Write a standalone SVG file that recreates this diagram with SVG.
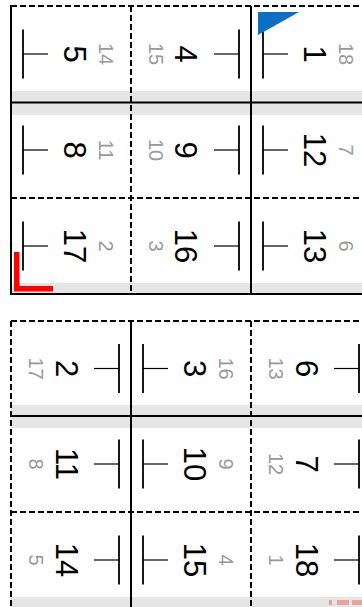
<svg xmlns="http://www.w3.org/2000/svg" width="362" height="607" viewBox="0 0 362 607">
<style>
.band{fill:#e5e5e5}
.sol{stroke:#000;stroke-width:2;fill:none}
.dsh{stroke:#000;stroke-width:2;stroke-dasharray:6 3;fill:none}
.mv{stroke:#000;stroke-width:1.8}
.mh{stroke:#000;stroke-width:1.2}
.big{font-family:"Liberation Sans",Arial,sans-serif;font-size:31px;fill:#000;text-anchor:middle}
.sm{font-family:"Liberation Sans",Arial,sans-serif;font-size:20px;fill:#999;text-anchor:middle}
</style>
<rect width="362" height="607" fill="#fff"/>
<!-- gray bands -->
<rect class="band" x="11" y="91" width="360" height="24"/>
<rect class="band" x="11" y="283" width="360" height="11"/>
<rect class="band" x="11" y="405" width="360" height="23"/>
<rect class="band" x="11" y="597" width="360" height="11"/>
<g id="connectors">
<!-- top sheet -->
<line class="dsh" x1="11" y1="6" x2="371" y2="6"/>
<line class="sol" x1="11" y1="5" x2="11" y2="295"/>
<line class="sol" x1="10" y1="294" x2="371" y2="294"/>
<line class="dsh" x1="131" y1="6" x2="131" y2="294"/>
<line class="sol" x1="251" y1="6" x2="251" y2="294"/>
<line class="sol" x1="11" y1="102.5" x2="371" y2="102.5"/>
<line class="dsh" x1="11" y1="198" x2="371" y2="198"/>
<!-- bottom sheet -->
<line class="dsh" x1="11" y1="321" x2="371" y2="321"/>
<line class="dsh" x1="11" y1="321" x2="11" y2="608"/>
<line class="sol" x1="131" y1="321" x2="131" y2="608"/>
<line class="dsh" x1="251" y1="321" x2="251" y2="608"/>
<line class="sol" x1="11" y1="416" x2="371" y2="416"/>
<line class="dsh" x1="11" y1="512" x2="371" y2="512"/>
</g>
<!-- top sheet pages -->
<g id="p5"><line class="mv" x1="23" y1="29.5" x2="23" y2="78.5"/><line class="mh" x1="23" y1="54" x2="48" y2="54"/><text class="big" transform="translate(75,54) rotate(90)" dy="0.36em">5</text><text class="sm" transform="translate(106,54) rotate(90)" dy="0.36em">14</text></g>
<g id="p4"><line class="mv" x1="239" y1="29.5" x2="239" y2="78.5"/><line class="mh" x1="214" y1="54" x2="239" y2="54"/><text class="big" transform="translate(186,54) rotate(90)" dy="0.36em">4</text><text class="sm" transform="translate(156,54) rotate(90)" dy="0.36em">15</text></g>
<g id="p1"><line class="mv" x1="263" y1="29.5" x2="263" y2="78.5"/><line class="mh" x1="263" y1="54" x2="288" y2="54"/><text class="big" transform="translate(315,54) rotate(90)" dy="0.36em">1</text><text class="sm" transform="translate(346,54) rotate(90)" dy="0.36em">18</text></g>
<g id="p8"><line class="mv" x1="23" y1="125.5" x2="23" y2="174.5"/><line class="mh" x1="23" y1="150" x2="48" y2="150"/><text class="big" transform="translate(75,150) rotate(90)" dy="0.36em">8</text><text class="sm" transform="translate(106,150) rotate(90)" dy="0.36em">11</text></g>
<g id="p9"><line class="mv" x1="239" y1="125.5" x2="239" y2="174.5"/><line class="mh" x1="214" y1="150" x2="239" y2="150"/><text class="big" transform="translate(186,150) rotate(90)" dy="0.36em">9</text><text class="sm" transform="translate(156,150) rotate(90)" dy="0.36em">10</text></g>
<g id="p12"><line class="mv" x1="263" y1="125.5" x2="263" y2="174.5"/><line class="mh" x1="263" y1="150" x2="288" y2="150"/><text class="big" transform="translate(315,150) rotate(90)" dy="0.36em">12</text><text class="sm" transform="translate(346,150) rotate(90)" dy="0.36em">7</text></g>
<g id="p17"><line class="mv" x1="23" y1="221.5" x2="23" y2="270.5"/><line class="mh" x1="23" y1="246" x2="48" y2="246"/><text class="big" transform="translate(75,246) rotate(90)" dy="0.36em">17</text><text class="sm" transform="translate(106,246) rotate(90)" dy="0.36em">2</text></g>
<g id="p16"><line class="mv" x1="239" y1="221.5" x2="239" y2="270.5"/><line class="mh" x1="214" y1="246" x2="239" y2="246"/><text class="big" transform="translate(186,246) rotate(90)" dy="0.36em">16</text><text class="sm" transform="translate(156,246) rotate(90)" dy="0.36em">3</text></g>
<g id="p13"><line class="mv" x1="263" y1="221.5" x2="263" y2="270.5"/><line class="mh" x1="263" y1="246" x2="288" y2="246"/><text class="big" transform="translate(315,246) rotate(90)" dy="0.36em">13</text><text class="sm" transform="translate(346,246) rotate(90)" dy="0.36em">6</text></g>
<!-- bottom sheet pages -->
<g id="p2"><line class="mv" x1="119" y1="344" x2="119" y2="393"/><line class="mh" x1="94" y1="368.5" x2="119" y2="368.5"/><text class="big" transform="translate(67,368.5) rotate(90)" dy="0.36em">2</text><text class="sm" transform="translate(36,368.5) rotate(90)" dy="0.36em">17</text></g>
<g id="p3"><line class="mv" x1="143" y1="344" x2="143" y2="393"/><line class="mh" x1="143" y1="368.5" x2="168" y2="368.5"/><text class="big" transform="translate(195,368.5) rotate(90)" dy="0.36em">3</text><text class="sm" transform="translate(226,368.5) rotate(90)" dy="0.36em">16</text></g>
<g id="p6"><line class="mv" x1="359" y1="344" x2="359" y2="393"/><line class="mh" x1="334" y1="368.5" x2="359" y2="368.5"/><text class="big" transform="translate(307,368.5) rotate(90)" dy="0.36em">6</text><text class="sm" transform="translate(276,368.5) rotate(90)" dy="0.36em">13</text></g>
<g id="p11"><line class="mv" x1="119" y1="439.5" x2="119" y2="488.5"/><line class="mh" x1="94" y1="464" x2="119" y2="464"/><text class="big" transform="translate(67,464) rotate(90)" dy="0.36em">11</text><text class="sm" transform="translate(36,464) rotate(90)" dy="0.36em">8</text></g>
<g id="p10"><line class="mv" x1="143" y1="439.5" x2="143" y2="488.5"/><line class="mh" x1="143" y1="464" x2="168" y2="464"/><text class="big" transform="translate(195,464) rotate(90)" dy="0.36em">10</text><text class="sm" transform="translate(226,464) rotate(90)" dy="0.36em">9</text></g>
<g id="p7"><line class="mv" x1="359" y1="439.5" x2="359" y2="488.5"/><line class="mh" x1="334" y1="464" x2="359" y2="464"/><text class="big" transform="translate(307,464) rotate(90)" dy="0.36em">7</text><text class="sm" transform="translate(276,464) rotate(90)" dy="0.36em">12</text></g>
<g id="p14"><line class="mv" x1="119" y1="535.5" x2="119" y2="584.5"/><line class="mh" x1="94" y1="560" x2="119" y2="560"/><text class="big" transform="translate(67,560) rotate(90)" dy="0.36em">14</text><text class="sm" transform="translate(36,560) rotate(90)" dy="0.36em">5</text></g>
<g id="p15"><line class="mv" x1="143" y1="535.5" x2="143" y2="584.5"/><line class="mh" x1="143" y1="560" x2="168" y2="560"/><text class="big" transform="translate(195,560) rotate(90)" dy="0.36em">15</text><text class="sm" transform="translate(226,560) rotate(90)" dy="0.36em">4</text></g>
<g id="p18"><line class="mv" x1="359" y1="535.5" x2="359" y2="584.5"/><line class="mh" x1="334" y1="560" x2="359" y2="560"/><text class="big" transform="translate(307,560) rotate(90)" dy="0.36em">18</text><text class="sm" transform="translate(276,560) rotate(90)" dy="0.36em">1</text></g>
<!-- marks -->
<polygon id="blue-mark" points="258,12 299,12 258,35" fill="#0b6fc4"/>
<path id="red-mark" d="M14 252H19.5V286H53V291.5H14Z" fill="#ff0000"/>
<g id="red-mark-back" fill="#ff0000" fill-opacity="0.3">
<rect x="329" y="600" width="3" height="5"/>
<rect x="337" y="600" width="12" height="5"/>
<rect x="352" y="600" width="12" height="5"/>
</g>
</svg>
